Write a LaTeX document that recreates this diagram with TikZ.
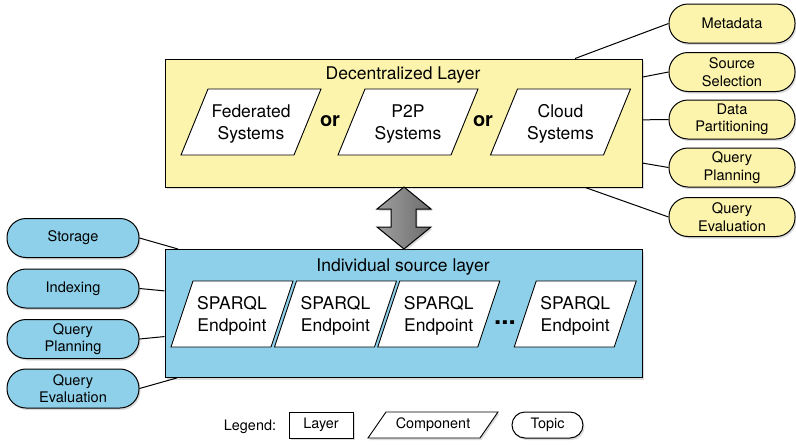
\documentclass[tikz,border=0pt]{standalone}
\usepackage{fontspec}
\setmainfont{TeX Gyre Heros}
\usetikzlibrary{shadows}
\definecolor{layeryellow}{RGB}{252,243,172}
\definecolor{layerblue}{RGB}{142,208,234}
\newcommand\compshape[6][]{%
  \draw[comp,#1] (#2-#4-#5,#3+#6) -- (#2+#4-#5,#3+#6) -- (#2+#4+#5,#3-#6) -- (#2-#4+#5,#3-#6) -- cycle;}
\begin{document}
\begin{tikzpicture}[x=1pt,y=-1pt,
  every node/.style={font=\fontsize{17.5}{21.5}\selectfont, align=center, inner sep=0pt},
  shad/.style={drop shadow={opacity=0.28, shadow xshift=1.5pt, shadow yshift=-2pt}},
  layerbox/.style={draw=black, line width=1pt, minimum width=477pt, minimum height=128pt, shad},
  topicbox/.style={draw=black, line width=1pt, rounded corners=19pt, minimum height=39pt,
     font=\fontsize{14.6}{17.5}\selectfont, shad},
  comp/.style={draw=black, fill=white, line width=0.9pt},
  link/.style={draw=black, line width=1pt},
  ortext/.style={font=\fontsize{20}{22}\selectfont\bfseries},
  smalltext/.style={font=\fontsize{14.4}{17.5}\selectfont}]
\useasboundingbox (0,0) rectangle (796,445);

% layers
\node[layerbox, fill=layeryellow] (declayer) at (403.5,123) {};
\node[layerbox, fill=layerblue] (srclayer) at (403.5,313.5) {};
\node[anchor=base] (dtitle) at (403,79) {Decentralized Layer};
\node[anchor=base] (stitle) at (403,271) {Individual source layer};

% components top
\compshape{251}{122}{56.5}{13.5}{33}
\node (fed) at (251,124) {Federated\\Systems};
\node[ortext] (or1) at (330,121) {or};
\compshape{408}{122}{56.5}{13.5}{33}
\node (p2p) at (408,124) {P2P\\Systems};
\node[ortext] (or2) at (483,121) {or};
\compshape{560.5}{122}{56.5}{13.5}{33}
\node (cloud) at (560.5,124) {Cloud\\Systems};

% components bottom
\compshape{232}{314}{50}{11}{33}
\node (sp1) at (232,316) {SPARQL\\Endpoint};
\compshape{335.5}{314}{50}{11}{33}
\node (sp2) at (335.5,316) {SPARQL\\Endpoint};
\compshape{438.75}{314}{50}{11}{33}
\node (sp3) at (438.75,316) {SPARQL\\Endpoint};
\node[font=\fontsize{26}{26}\selectfont\bfseries] (dots) at (505,323) {...};
\compshape{575.25}{314}{50}{11}{33}
\node (sp4) at (575.25,316) {SPARQL\\Endpoint};

% right topics
\node[topicbox, fill=layeryellow, minimum width=126pt] (meta) at (732,23.5) {Metadata};
\node[topicbox, fill=layeryellow, minimum width=126pt] (srcsel) at (732,72) {Source\\Selection};
\node[topicbox, fill=layeryellow, minimum width=126pt] (datapart) at (732,119.5) {Data\\Partitioning};
\node[topicbox, fill=layeryellow, minimum width=126pt] (qplanA) at (732,167.5) {Query\\Planning};
\node[topicbox, fill=layeryellow, minimum width=126pt] (qevalA) at (732,217) {Query\\Evaluation};

% left topics
\node[topicbox, fill=layerblue, minimum width=132pt] (storage) at (73,238) {Storage};
\node[topicbox, fill=layerblue, minimum width=132pt] (indexing) at (73,288.5) {Indexing};
\node[topicbox, fill=layerblue, minimum width=132pt] (qplanB) at (73,339) {Query\\Planning};
\node[topicbox, fill=layerblue, minimum width=132pt] (qevalB) at (73,388.5) {Query\\Evaluation};

% connectors
\draw[link] (declayer) -- (meta.west);
\draw[link] (declayer) -- (srcsel.west);
\draw[link] (declayer) -- (datapart.west);
\draw[link] (declayer) -- (qplanA.west);
\draw[link] (declayer) -- (qevalA.west);
\draw[link] (storage.east) -- (srclayer);
\draw[link] (indexing.east) -- (srclayer);
\draw[link] (qplanB.east) -- (srclayer);
\draw[link] (qevalB.east) -- (srclayer);

% double arrow between layers
\draw[line width=1pt, left color=gray!75, middle color=gray!35, right color=gray!85!black, shad]
  (404,187) -- (431,209) -- (416,209) -- (416,227) -- (431,227) -- (404,249)
  -- (377,227) -- (391,227) -- (391,209) -- (377,209) -- cycle;

% legend
\node[smalltext, anchor=base] (legend) at (250,430) {Legend:};
\node[draw=black, line width=1pt, fill=white, minimum width=64pt, minimum height=26pt, smalltext, shad] (leglayer) at (321,425) {Layer};
\compshape[shad]{433}{425}{56}{9}{13}
\node[smalltext] (legcomp) at (433,425) {Component};
\node[draw=black, line width=1pt, fill=white, rounded corners=13pt, minimum width=71pt, minimum height=26pt, smalltext, shad] (legtopic) at (547.5,425) {Topic};
\end{tikzpicture}
\end{document}
